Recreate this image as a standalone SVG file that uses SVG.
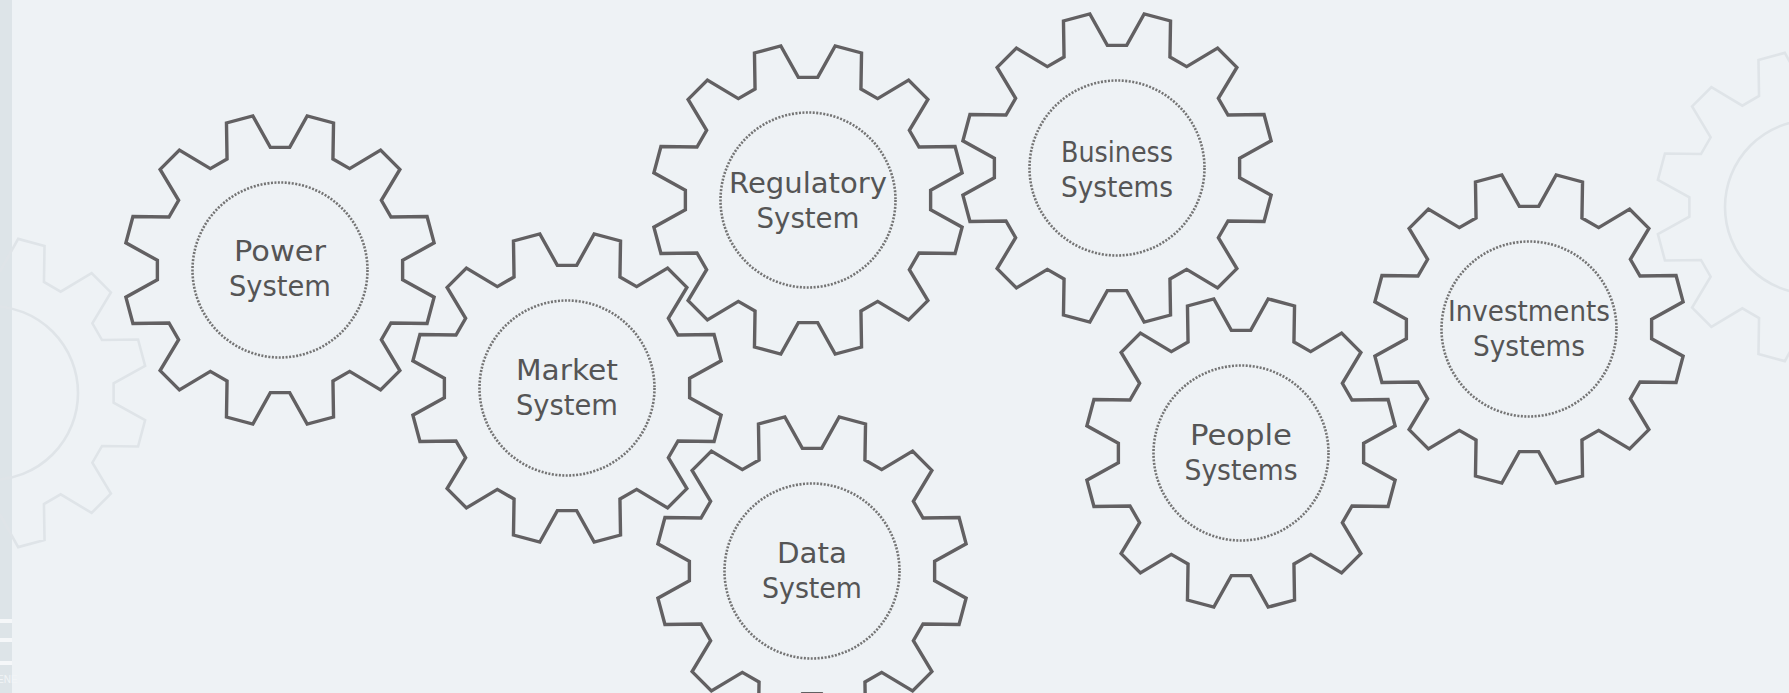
<svg xmlns="http://www.w3.org/2000/svg" xmlns:xlink="http://www.w3.org/1999/xlink" width="1789" height="693" viewBox="0 0 1789 693">
<style>
.gear{fill:#eef2f5;stroke:#626062;stroke-width:3.4;stroke-linejoin:miter}
.dash{fill:none;stroke:#747474;stroke-width:2.6;stroke-dasharray:2 1.5}
.ghost{fill:none;stroke:#dfe4e8;stroke-width:2.6}
.lbl{font-family:"DejaVu Sans","Liberation Sans",sans-serif;font-size:28px;fill:#555555;text-anchor:middle}
</style>
<defs>
<path id="gearShape" d="M 9.65,-122.62 L 27.18,-154.12 L 53.53,-147.06 L 52.95,-111.02 L 69.67,-101.37 L 100.60,-119.89 L 119.89,-100.60 L 101.37,-69.67 L 111.02,-52.95 L 147.06,-53.53 L 154.12,-27.18 L 122.62,-9.65 L 122.62,9.65 L 154.12,27.18 L 147.06,53.53 L 111.02,52.95 L 101.37,69.67 L 119.89,100.60 L 100.60,119.89 L 69.67,101.37 L 52.95,111.02 L 53.53,147.06 L 27.18,154.12 L 9.65,122.62 L -9.65,122.62 L -27.18,154.12 L -53.53,147.06 L -52.95,111.02 L -69.67,101.37 L -100.60,119.89 L -119.89,100.60 L -101.37,69.67 L -111.02,52.95 L -147.06,53.53 L -154.12,27.18 L -122.62,9.65 L -122.62,-9.65 L -154.12,-27.18 L -147.06,-53.53 L -111.02,-52.95 L -101.37,-69.67 L -119.89,-100.60 L -100.60,-119.89 L -69.67,-101.37 L -52.95,-111.02 L -53.53,-147.06 L -27.18,-154.12 L -9.65,-122.62 Z"/>
</defs>
<rect x="0" y="0" width="1789" height="693" fill="#eef2f5"/>
<g id="left-strip">
<rect x="0" y="0" width="12" height="693" fill="#dde4e8"/>
<rect x="0" y="619" width="12" height="4" fill="#f5f7f9"/>
<rect x="0" y="638" width="12" height="4" fill="#f5f7f9"/>
<rect x="0" y="661" width="12" height="4" fill="#f5f7f9"/>
<text x="-3" y="683" font-family="Liberation Sans, sans-serif" font-size="10" fill="#f2f5f7">ENE</text>
</g>
<g id="ghost-left" transform="translate(-9,393)">
<use xlink:href="#gearShape" class="ghost"/>
<circle r="87" class="ghost"/>
</g>
<g id="ghost-right" transform="translate(1812,207)">
<use xlink:href="#gearShape" class="ghost"/>
<circle r="87" class="ghost"/>
</g>
<g id="connectors"></g>
<g id="power" transform="translate(280,270)">
<use xlink:href="#gearShape" class="gear"/>
<circle r="87.5" class="dash"/>
<text class="lbl" x="0" y="-9" textLength="92" lengthAdjust="spacingAndGlyphs">Power</text>
<text class="lbl" x="0" y="26" textLength="102" lengthAdjust="spacingAndGlyphs">System</text>
</g>
<g id="market" transform="translate(567,388)">
<use xlink:href="#gearShape" class="gear"/>
<circle r="87.5" class="dash"/>
<text class="lbl" x="0" y="-8" textLength="102" lengthAdjust="spacingAndGlyphs">Market</text>
<text class="lbl" x="0" y="27" textLength="102" lengthAdjust="spacingAndGlyphs">System</text>
</g>
<g id="regulatory" transform="translate(808,200)">
<use xlink:href="#gearShape" class="gear"/>
<circle r="87.5" class="dash"/>
<text class="lbl" x="0" y="-7" textLength="158" lengthAdjust="spacingAndGlyphs">Regulatory</text>
<text class="lbl" x="0" y="28" textLength="103" lengthAdjust="spacingAndGlyphs">System</text>
</g>
<g id="data" transform="translate(812,571)">
<use xlink:href="#gearShape" class="gear"/>
<circle r="87.5" class="dash"/>
<text class="lbl" x="0" y="-8" textLength="70" lengthAdjust="spacingAndGlyphs">Data</text>
<text class="lbl" x="0" y="27" textLength="100" lengthAdjust="spacingAndGlyphs">System</text>
</g>
<g id="business" transform="translate(1117,168)">
<use xlink:href="#gearShape" class="gear"/>
<circle r="87.5" class="dash"/>
<text class="lbl" x="0" y="-6" textLength="112" lengthAdjust="spacingAndGlyphs">Business</text>
<text class="lbl" x="0" y="29" textLength="112" lengthAdjust="spacingAndGlyphs">Systems</text>
</g>
<g id="people" transform="translate(1241,453)">
<use xlink:href="#gearShape" class="gear"/>
<circle r="87.5" class="dash"/>
<text class="lbl" x="0" y="-8" textLength="102" lengthAdjust="spacingAndGlyphs">People</text>
<text class="lbl" x="0" y="27" textLength="113" lengthAdjust="spacingAndGlyphs">Systems</text>
</g>
<g id="investments" transform="translate(1529,329)">
<use xlink:href="#gearShape" class="gear"/>
<circle r="87.5" class="dash"/>
<text class="lbl" x="0" y="-8" textLength="162" lengthAdjust="spacingAndGlyphs">Investments</text>
<text class="lbl" x="0" y="27" textLength="112" lengthAdjust="spacingAndGlyphs">Systems</text>
</g>
</svg>
